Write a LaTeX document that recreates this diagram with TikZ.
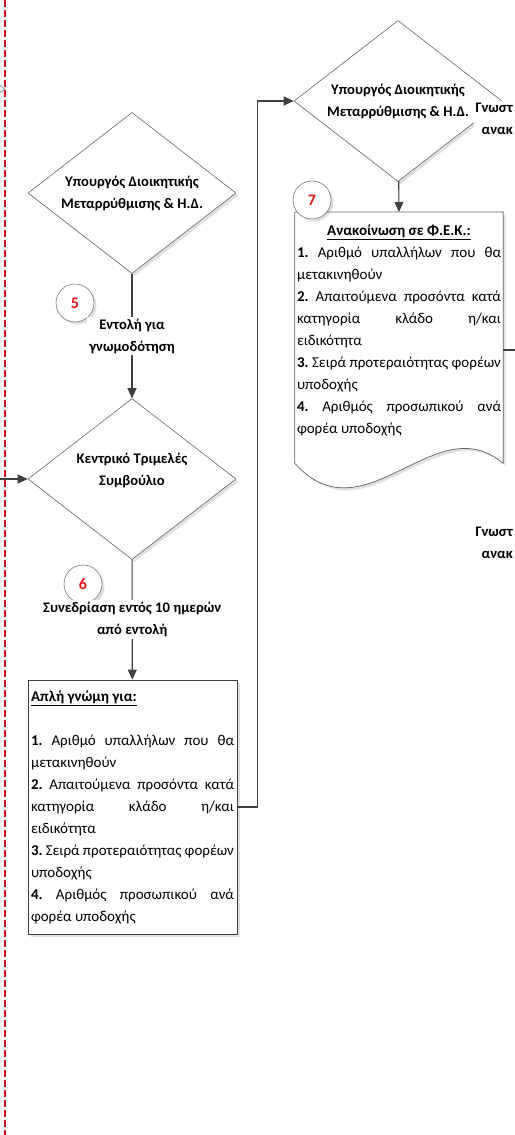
\documentclass[tikz,border=0pt]{standalone}
\usepackage{fontspec}
\setmainfont{Carlito}
\usetikzlibrary{shapes.geometric,arrows.meta,positioning,shadows}

\definecolor{linegray}{HTML}{404040}
\definecolor{numred}{HTML}{E8141B}
\definecolor{lanered}{HTML}{D0141B}
\newcommand{\flowfont}{\fontsize{15pt}{22pt}\selectfont}
\newcommand{\labelfont}{\fontsize{14.6pt}{22pt}\selectfont\bfseries}
\setlength{\parindent}{0pt}
\frenchspacing

\tikzset{
  softshadow/.style={drop shadow={opacity=0.25, shadow xshift=2.5pt, shadow yshift=-2.5pt}},
  decision/.style={diamond, draw=linegray!80, line width=0.6pt, fill=white, softshadow,
    minimum width=208pt, minimum height=161pt, shape aspect=1.3, inner sep=0pt,
    font=\labelfont, align=center},
  infobox/.style={rectangle, draw=linegray, line width=0.8pt, fill=white, softshadow,
    text width=203pt, inner xsep=3pt, minimum height=254pt,
    font=\flowfont, align=justify},
  doctext/.style={text width=204pt, inner xsep=0pt, font=\flowfont, align=justify},
  numcircle/.style={circle, draw=linegray!70, line width=0.6pt, fill=white, softshadow,
    minimum size=38pt, inner sep=0pt, font=\fontsize{16pt}{18pt}\selectfont\bfseries, text=numred},
  edgelabel/.style={fill=white, inner sep=2pt, font=\labelfont, align=center},
  conn/.style={draw=linegray, line width=1.1pt, -{Triangle[length=10pt,width=9pt]}},
  plainline/.style={draw=linegray, line width=1.1pt},
}

\begin{document}
\begin{tikzpicture}[x=1pt, y=-1pt, line join=round]
  \useasboundingbox (0,0) rectangle (514,1135);
  \fill[white] (0,0) rectangle (514,1135);

  % lane boundary
  \draw[lanered, line width=2.6pt, dash pattern=on 6.5pt off 3.5pt] (5,0) -- (5,1135);
  \draw[linegray!70, line width=0.6pt] (0,85) -- (4.5,89) -- (0,93);

  % decisions
  \node[decision] (ypourgos1) at (132,193) {Υπουργός Διοικητικής\\Μεταρρύθμισης \& Η.Δ.};
  \node[decision] (kts) at (132,479) {};
  \node[font=\labelfont, align=center] (kts-text) at (132,470) {Κεντρικό Τριμελές\\Συμβούλιο};
  \node[decision] (ypourgos2) at (398,101) {Υπουργός Διοικητικής\\Μεταρρύθμισης \& Η.Δ.};

  % boxes
  \node[infobox] (gnomi) at (132.5,807) {\underline{\textbf{Απλή γνώμη για:}}\par\mbox{}\par
    \textbf{1.} Αριθμό υπαλλήλων που θα\linebreak μετακινηθούν\par
    \textbf{2.} Απαιτούμενα προσόντα κατά\linebreak κατηγορία κλάδο η/και\linebreak ειδικότητα\par
    \textbf{3.} Σειρά προτεραιότητας φορέων\linebreak υποδοχής\par
    \textbf{4.} Αριθμός προσωπικού ανά\linebreak φορέα υποδοχής};

  \node[minimum width=208pt, minimum height=251pt, inner sep=0pt, anchor=north] (fek) at (399,212) {};
  \draw[draw=linegray!80, line width=0.7pt, fill=white, softshadow]
    (fek.south east) -- (fek.north east) -- (fek.north west) -- (fek.south west)
    .. controls +(70,77) and +(-68,-58) .. (fek.south east) -- cycle;
  \node[doctext, below=9pt of fek.north] (fek-text) {\hfill\underline{\textbf{Ανακοίνωση σε Φ.Ε.Κ.:}}\hfill\null\par
    \textbf{1.} Αριθμό υπαλλήλων που θα\linebreak μετακινηθούν\par
    \textbf{2.} Απαιτούμενα προσόντα κατά\linebreak κατηγορία κλάδο η/και\linebreak ειδικότητα\par
    \textbf{3.} Σειρά προτεραιότητας φορέων\linebreak υποδοχής\par
    \textbf{4.} Αριθμός προσωπικού ανά\linebreak φορέα υποδοχής};

  % step numbers
  \node[numcircle] (n5) at (75,303) {5};
  \node[numcircle] (n6) at (83,584) {6};
  \node[numcircle] (n7) at (312,200) {7};

  % connectors
  \coordinate (from-left) at (0,479);
  \coordinate (to-right) at (520,350);
  \draw[conn] (from-left) -- (kts.west);
  \draw[conn] (ypourgos1) -- node[edgelabel] (entoli) {Εντολή για\\γνωμοδότηση} (kts);
  \draw[conn] (kts) -- node[edgelabel] (synedriasi) {Συνεδρίαση εντός 10 ημερών\\από εντολή} (gnomi);
  \draw[conn] (gnomi.east) -- ++(20,0) |- (ypourgos2.west);
  \draw[conn] (ypourgos2) -- (fek.north);
  \draw[plainline] (fek.east |- to-right) -- (to-right);

  % labels cut by the right edge
  \node[edgelabel, anchor=east, align=right] (gnost1) at (515,119) {Γνωστ\\ανακ};
  \node[edgelabel, anchor=east, align=right, fill=none] (gnost2) at (515,543) {Γνωστ\\ανακ};
\end{tikzpicture}
\end{document}
